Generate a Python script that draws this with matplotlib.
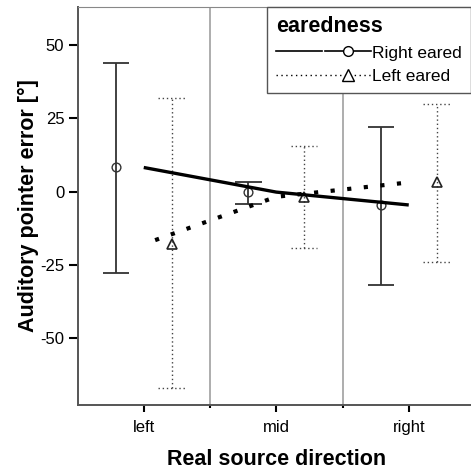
import matplotlib.pyplot as plt
from matplotlib.lines import Line2D
from matplotlib.legend_handler import HandlerTuple

plt.rcParams['font.family'] = ['Liberation Sans', 'DejaVu Sans']
plt.rcParams['axes.unicode_minus'] = False

directions = ['left', 'mid', 'right']

# Right eared group: means and error bar ends
right_mean = [8.2, -0.2, -4.6]
right_upper = [43.9, 3.3, 22.0]
right_lower = [-27.8, -4.3, -31.9]

# Left eared group
left_mean = [-18.0, -1.8, 3.1]
left_upper = [31.8, 15.5, 29.9]
left_lower = [-67.2, -19.2, -24.0]

offset = 0.21
cap = 0.1

fig = plt.figure(figsize=(4.71, 4.69), dpi=100)
ax = fig.add_axes([77.5 / 471, 64 / 469, 397.5 / 471, 398 / 469])

pos = list(range(len(directions)))
pos_r = [p - offset for p in pos]
pos_l = [p + offset for p in pos]

# separators between categories
for b in [0.5, 1.5]:
    ax.axvline(b, color='#a0a0a0', lw=1.2, zorder=0)

# error bars, right eared (solid)
ax.vlines(pos_r, right_lower, right_upper, color='#333333', lw=1.3)
ax.hlines(right_upper, [p - cap for p in pos_r], [p + cap for p in pos_r], color='#333333', lw=1.3)
ax.hlines(right_lower, [p - cap for p in pos_r], [p + cap for p in pos_r], color='#333333', lw=1.3)

# error bars, left eared (dotted)
ax.vlines(pos_l, left_lower, left_upper, color='#444444', lw=1.0, linestyles=(0, (1, 2)))
ax.hlines(left_upper, [p - cap for p in pos_l], [p + cap for p in pos_l], color='#444444', lw=1.0, linestyles=(0, (1, 2)))
ax.hlines(left_lower, [p - cap for p in pos_l], [p + cap for p in pos_l], color='#444444', lw=1.0, linestyles=(0, (1, 2)))

# means
ax.plot(pos_r, right_mean, 'o', ms=6.3, mfc='none', mec='#333333', mew=1.0)
ax.plot(pos_l, left_mean, '^', ms=7, mfc='none', mec='#222222', mew=1.2)

# lines through means
ax.plot(pos, right_mean, color='black', lw=2.4, solid_capstyle='butt')
ax.plot(pos, left_mean, color='black', lw=3.0, linestyle=(1.1, (1, 3)))

ax.set_xlim(-0.5, 2.5)
ax.set_ylim(-72.9, 63.0)
ax.set_xticks(pos)
ax.set_xticklabels(directions, fontsize=12)
ax.set_xticks([0.5, 1.5], minor=True)
ax.set_yticks([50, 25, 0, -25, -50])
ax.set_yticklabels(['50', '25', '0', '-25', '-50'], fontsize=12)
ax.tick_params(axis='y', length=6.5, width=1.5, pad=3)
ax.tick_params(axis='x', which='major', length=5, width=1.5, pad=6)
ax.tick_params(axis='x', which='minor', length=2, width=1.5)

ax.spines['left'].set_color('#555555')
ax.spines['bottom'].set_color('#555555')
ax.spines['left'].set_linewidth(1.4)
ax.spines['bottom'].set_linewidth(1.4)
ax.spines['top'].set_color('#888888')
ax.spines['right'].set_color('#888888')

ax.set_xlabel('Real source direction', fontsize=15.5, fontweight='bold', labelpad=10)
ax.set_ylabel('Auditory pointer error [°]', fontsize=15.5, fontweight='bold', labelpad=1)

# legend
h_r = (Line2D([], [], color='black', lw=1.2),
       Line2D([], [], color='black', lw=1.2, marker='o', ms=7, mfc='white', mec='black'))
h_l = (Line2D([], [], color='black', lw=1.0, linestyle=(0, (1, 2.5))),
       Line2D([], [], color='black', lw=1.0, linestyle=(0, (1, 2.5)), marker='^', ms=8,
              mfc='white', mec='black'))
leg = ax.legend([h_r, h_l], ['Right eared', 'Left eared'],
                handler_map={tuple: HandlerTuple(ndivide=None, pad=0.17)},
                title='earedness', title_fontproperties={'weight': 'bold', 'size': 15.5},
                fontsize=12.5, loc='upper left', bbox_to_anchor=(0.477, 1.0),
                handlelength=5.5, handletextpad=0.05, labelspacing=0.5,
                borderpad=0.5, borderaxespad=0, alignment='left',
                frameon=True, fancybox=False, edgecolor='#555555', framealpha=1)
leg.get_frame().set_linewidth(1.0)

plt.savefig('out.png', dpi=100)
